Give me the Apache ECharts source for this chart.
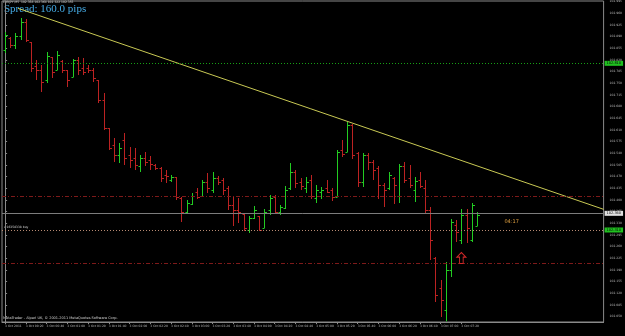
<!DOCTYPE html>
<html>
<head>
<meta charset="utf-8">
<title>EURJPY,M5</title>
<script src="https://cdn.jsdelivr.net/npm/echarts@6.0.0/dist/echarts.min.js"></script>
<style>
  html, body { margin: 0; padding: 0; background: #000; }
  #chart { width: 625px; height: 336px; }
</style>
</head>
<body>
<div id="chart"></div>
<script>
// OHLC of the M5 bars (bar 0 = 3 Oct 00:00)
const open = [
  102.850, 102.886, 102.865, 102.892, 102.934, 102.874, 102.802, 102.790, 102.760, 102.829,
  102.790, 102.817, 102.790, 102.769, 102.820, 102.796, 102.796, 102.790, 102.760, 102.700,
  102.616, 102.565, 102.535, 102.580, 102.535, 102.526, 102.502, 102.526, 102.520, 102.505,
  102.496, 102.475, 102.460, 102.469, 102.406, 102.364, 102.388, 102.424, 102.412, 102.454,
  102.430, 102.466, 102.460, 102.436, 102.385, 102.370, 102.358, 102.310, 102.346, 102.352,
  102.316, 102.370, 102.409, 102.364, 102.376, 102.436, 102.484, 102.454, 102.436, 102.460,
  102.406, 102.424, 102.436, 102.430, 102.409, 102.550, 102.544, 102.625, 102.541, 102.454,
  102.535, 102.514, 102.496, 102.445, 102.436, 102.466, 102.412, 102.502, 102.466, 102.430,
  102.460, 102.436, 102.370, 102.226, 102.136, 102.070, 102.190, 102.325, 102.280, 102.355,
  102.280, 102.322
];
const high = [
  102.904, 102.889, 102.901, 102.946, 102.943, 102.874, 102.820, 102.805, 102.844, 102.829,
  102.847, 102.820, 102.790, 102.823, 102.829, 102.826, 102.805, 102.796, 102.760, 102.721,
  102.616, 102.586, 102.571, 102.601, 102.559, 102.556, 102.535, 102.544, 102.532, 102.508,
  102.499, 102.490, 102.475, 102.469, 102.409, 102.400, 102.421, 102.436, 102.460, 102.481,
  102.484, 102.472, 102.466, 102.442, 102.409, 102.406, 102.361, 102.352, 102.382, 102.352,
  102.373, 102.415, 102.415, 102.385, 102.442, 102.511, 102.490, 102.466, 102.469, 102.475,
  102.445, 102.439, 102.460, 102.436, 102.550, 102.580, 102.634, 102.628, 102.544, 102.541,
  102.541, 102.520, 102.502, 102.451, 102.484, 102.469, 102.508, 102.514, 102.505, 102.469,
  102.484, 102.460, 102.379, 102.229, 102.160, 102.214, 102.343, 102.340, 102.373, 102.373,
  102.391, 102.364
];
const low = [
  102.841, 102.856, 102.853, 102.880, 102.874, 102.784, 102.760, 102.724, 102.751, 102.766,
  102.790, 102.781, 102.739, 102.769, 102.775, 102.775, 102.781, 102.754, 102.691, 102.610,
  102.550, 102.514, 102.511, 102.505, 102.496, 102.490, 102.484, 102.502, 102.490, 102.490,
  102.454, 102.451, 102.454, 102.400, 102.334, 102.361, 102.385, 102.403, 102.409, 102.421,
  102.421, 102.445, 102.415, 102.370, 102.322, 102.331, 102.307, 102.301, 102.343, 102.307,
  102.316, 102.355, 102.361, 102.355, 102.373, 102.430, 102.436, 102.430, 102.421, 102.403,
  102.391, 102.403, 102.421, 102.397, 102.409, 102.529, 102.544, 102.523, 102.439, 102.439,
  102.490, 102.460, 102.403, 102.379, 102.430, 102.388, 102.391, 102.451, 102.436, 102.394,
  102.436, 102.361, 102.220, 102.094, 102.049, 102.036, 102.169, 102.274, 102.268, 102.271,
  102.274, 102.322
];
const close = [
  102.895, 102.865, 102.892, 102.934, 102.880, 102.796, 102.790, 102.754, 102.832, 102.784,
  102.835, 102.790, 102.760, 102.820, 102.790, 102.784, 102.790, 102.766, 102.700, 102.616,
  102.556, 102.535, 102.556, 102.526, 102.520, 102.505, 102.526, 102.514, 102.508, 102.496,
  102.466, 102.472, 102.469, 102.409, 102.364, 102.391, 102.412, 102.409, 102.454, 102.436,
  102.466, 102.454, 102.430, 102.385, 102.370, 102.364, 102.316, 102.346, 102.370, 102.310,
  102.364, 102.406, 102.364, 102.379, 102.430, 102.484, 102.451, 102.442, 102.454, 102.412,
  102.430, 102.430, 102.424, 102.409, 102.544, 102.538, 102.625, 102.535, 102.454, 102.535,
  102.514, 102.490, 102.445, 102.430, 102.475, 102.445, 102.502, 102.460, 102.445, 102.457,
  102.442, 102.370, 102.280, 102.115, 102.100, 102.190, 102.334, 102.304, 102.355, 102.316,
  102.385, 102.355
];

// axis ticks
const priceTicks = [
  102.995, 102.960, 102.925, 102.890, 102.855, 102.820, 102.785, 102.750, 102.715, 102.680,
  102.645, 102.610, 102.575, 102.540, 102.505, 102.470, 102.435, 102.400, 102.365, 102.330,
  102.295, 102.260, 102.225, 102.190, 102.155, 102.120, 102.085, 102.050
];
const timeTicks = [0, 4, 8, 12, 16, 20, 24, 28, 32, 36, 40, 44, 48, 52, 56, 60, 64, 68, 72, 76, 80, 84, 88];
const timeLabels = [
  "3 Oct 2011", "3 Oct 00:20", "3 Oct 00:40", "3 Oct 01:00", "3 Oct 01:20", "3 Oct 01:40",
  "3 Oct 02:00", "3 Oct 02:20", "3 Oct 02:40", "3 Oct 03:00", "3 Oct 03:20", "3 Oct 03:40",
  "3 Oct 04:00", "3 Oct 04:20", "3 Oct 04:40", "3 Oct 05:00", "3 Oct 05:20", "3 Oct 05:40",
  "3 Oct 06:00", "3 Oct 06:20", "3 Oct 06:40", "3 Oct 07:00", "3 Oct 07:20"
];

// levels drawn on the chart
const trendLine = [[2.5, 102.975], [115.43, 102.372]];
const levelGreen = 102.814;
const levelRed = [102.409, 102.208];
const bidPrice = 102.355;
const orderPrice = 102.310;

const chart = echarts.init(document.getElementById("chart"));

const bars = open.map((o, i) => [i, o, high[i], low[i], close[i]]);

// one MT4 style bar: high-low stick, open tick left, close tick right
const renderBar = (params, api) => {
  const i = api.value(0);
  const o = api.coord([i, api.value(1)]);
  const h = api.coord([i, api.value(2)]);
  const l = api.coord([i, api.value(3)]);
  const c = api.coord([i, api.value(4)]);
  const color = api.value(4) >= api.value(1) ? "#22cc22" : "#bc2222";
  const x = Math.round(h[0]) + 0.5;
  const st = { stroke: color, lineWidth: 1 };
  return {
    type: "group",
    children: [
      { type: "line", shape: { x1: x, y1: h[1], x2: x, y2: l[1] }, style: st },
      { type: "line", shape: { x1: x - 2, y1: Math.round(o[1]) + 0.5, x2: x, y2: Math.round(o[1]) + 0.5 }, style: st },
      { type: "line", shape: { x1: x, y1: Math.round(c[1]) + 0.5, x2: x + 2.5, y2: Math.round(c[1]) + 0.5 }, style: st }
    ]
  };
};

const boxLabel = (bg) => ({
  show: true,
  position: "end",
  distance: 1,
  formatter: (p) => p.value.toFixed(3),
  color: "#000",
  backgroundColor: bg,
  fontSize: 3.5,
  fontFamily: "DejaVu Sans",
  padding: [1, 2, 0, 2]
});

const option = {
  backgroundColor: "#000",
  animation: false,
  grid: { left: 2, right: 19, top: 1, bottom: 14, show: true, borderColor: "#8a8a8a", borderWidth: 1 },
  xAxis: {
    type: "value",
    min: -0.6,
    max: 115.43,
    splitLine: { show: false },
    axisLine: { lineStyle: { color: "#8a8a8a" } },
    axisTick: { customValues: timeTicks, length: 2, lineStyle: { color: "#8a8a8a" } },
    axisLabel: {
      customValues: timeTicks,
      formatter: (v) => timeLabels[timeTicks.indexOf(Math.round(v))] || "",
      color: "#b8b8b8",
      fontSize: 3,
      fontFamily: "DejaVu Sans",
      align: "left",
      margin: 3
    }
  },
  yAxis: {
    type: "value",
    position: "right",
    min: 102.034,
    max: 102.997,
    splitLine: { show: false },
    axisLine: { show: true, lineStyle: { color: "#8a8a8a" } },
    axisTick: { show: true, customValues: priceTicks, length: 2, lineStyle: { color: "#8a8a8a" } },
    axisLabel: {
      customValues: priceTicks,
      formatter: (v) => v.toFixed(3),
      color: "#b8b8b8",
      fontSize: 3,
      fontFamily: "DejaVu Sans",
      margin: 6
    }
  },
  graphic: [
    { type: "text", left: 3, top: 1, style: { text: "EURJPY,M5  102.358 102.364 102.322 102.355", fill: "#d0d0d0", font: "3px DejaVu Sans" } },
    { type: "text", left: 4, top: 4, style: { text: "Spread: 160.0 pips", fill: "#45aae4", font: "11px 'Liberation Serif'" } },
    { type: "text", left: 4, top: 226, style: { text: "#16358338 buy", fill: "#d8d8d8", font: "3px DejaVu Sans" } },
    { type: "text", left: 3, top: 316, style: { text: "MetaTrader - Alpari UK, \u00a9 2001-2011 MetaQuotes Software Corp.", fill: "#d0d0d0", font: "3.5px DejaVu Sans" } }
  ],
  series: [
    {
      name: "levels",
      type: "line",
      data: trendLine,
      showSymbol: false,
      lineStyle: { color: "#c9c954", width: 1 },
      markLine: {
        symbol: "none",
        silent: true,
        label: { show: false },
        data: [
          { yAxis: levelGreen, lineStyle: { color: "#16a016", type: [1, 2], width: 1 }, label: boxLabel("#20c020") },
          { yAxis: levelRed[0], lineStyle: { color: "#7e1a1a", type: [4, 2, 1, 2], width: 1 } },
          { yAxis: levelRed[1], lineStyle: { color: "#7e1a1a", type: [4, 2, 1, 2], width: 1 } },
          { yAxis: bidPrice, lineStyle: { color: "#7c7c7c", type: "solid", width: 1 }, label: boxLabel("#e0e0e0") },
          { yAxis: orderPrice, lineStyle: { color: "#b88a72", type: [1, 2], width: 1 }, label: boxLabel("#20c020") }
        ]
      },
      markPoint: {
        silent: true,
        data: [
          {
            coord: [96.3, 102.334],
            symbol: "circle",
            symbolSize: 0,
            label: { show: true, position: "right", distance: 0, formatter: "04:17", color: "#e0a040", fontSize: 5, fontFamily: "DejaVu Sans" }
          },
          {
            coord: [88.0, 102.226],
            symbol: "path://M5,0 L10,5 L7,5 L7,12 L3,12 L3,5 L0,5 Z",
            symbolSize: [9, 11],
            itemStyle: { color: "rgba(0,0,0,0)", borderColor: "#d02828", borderWidth: 1 },
            label: { show: false }
          }
        ]
      }
    },
    {
      name: "EURJPY",
      type: "custom",
      renderItem: renderBar,
      data: bars,
      encode: { x: 0, y: [1, 2, 3, 4] }
    }
  ]
};

chart.setOption(option);
</script>
</body>
</html>
